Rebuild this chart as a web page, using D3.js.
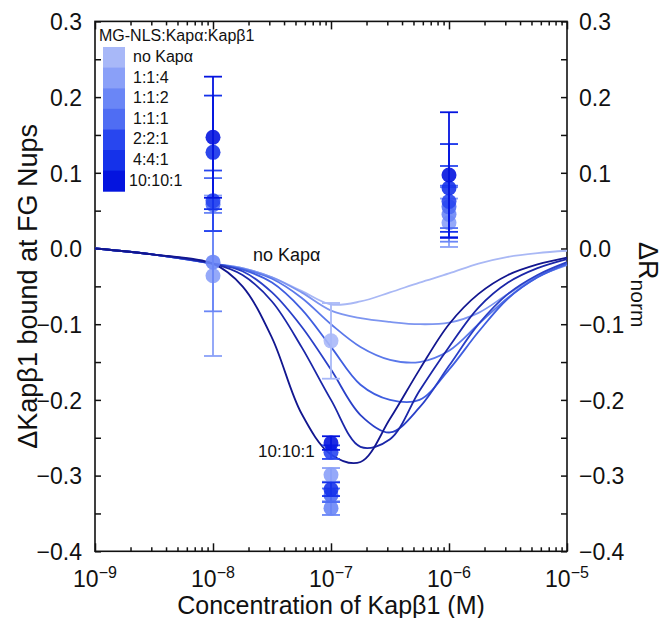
<!DOCTYPE html>
<html>
<head>
<meta charset="utf-8">
<script src="https://cdn.jsdelivr.net/npm/d3@7"></script>
<style>
  body { margin: 0; background: #fff; }
  text { font-family: "Liberation Sans", Arial, Helvetica, sans-serif; fill: #111; }
</style>
</head>
<body>
<svg id="chart" width="668" height="618"></svg>
<script>
// series names (ratio MG-NLS:Kapa:Kapb1)
const seriesNames = ["no Kapα", "1:1:4", "1:1:2", "1:1:1", "2:2:1", "4:4:1", "10:10:1"];
const markerColors = ["#a8b8f8", "#8aa0f8", "#6a86f6", "#4f6df3", "#2846ef", "#1532ea", "#0414df"];
const lineColors = ["#a9b8f5", "#7d95f0", "#5a78ea", "#3f5ee0", "#2a40c8", "#1a26a8", "#12168f"];

// fitted curves, read at these exponents of concentration
const fitExp = [-9, -8.5, -8, -7.75, -7.5, -7.25, -7, -6.75, -6.5, -6.25, -6, -5.75, -5.5, -5.25, -5];
const fitNoKapa = [0, -0.008, -0.02, -0.026, -0.038, -0.056, -0.074, -0.07, -0.058, -0.045, -0.033, -0.02, -0.011, -0.006, -0.003];
const fit114 = [0, -0.008, -0.02, -0.026, -0.038, -0.058, -0.082, -0.092, -0.097, -0.1, -0.098, -0.085, -0.06, -0.037, -0.022];
const fit112 = [0, -0.008, -0.02, -0.027, -0.04, -0.065, -0.1, -0.13, -0.147, -0.15, -0.135, -0.1, -0.065, -0.038, -0.021];
const fit111 = [0, -0.008, -0.02, -0.028, -0.045, -0.08, -0.13, -0.18, -0.2, -0.2, -0.16, -0.11, -0.066, -0.038, -0.02];
const fit221 = [0, -0.008, -0.02, -0.03, -0.058, -0.103, -0.16, -0.22, -0.243, -0.21, -0.155, -0.1, -0.06, -0.035, -0.018];
const fit441 = [0, -0.008, -0.02, -0.035, -0.07, -0.13, -0.2, -0.262, -0.252, -0.188, -0.13, -0.078, -0.045, -0.026, -0.014];
const fit10101 = [0, -0.008, -0.02, -0.05, -0.118, -0.218, -0.272, -0.282, -0.225, -0.16, -0.1, -0.06, -0.035, -0.021, -0.012];
const fits = [fitNoKapa, fit114, fit112, fit111, fit221, fit441, fit10101];

// measured points with error bars
const conc = [1e-8, 1e-7, 1e-6];
const ptNoKapa = [null, -0.122, null];
const errNoKapa = [null, 0.05, null];
const pt114 = [-0.036, -0.299, 0.034];
const err114 = [0.106, 0.009, 0.032];
const pt112 = [-0.018, -0.343, 0.045];
const err112 = [0.065, 0.009, 0.036];
const pt111 = [0.058, -0.326, 0.055];
const err111 = [0.035, 0.009, 0.028];
const pt221 = [0.063, -0.269, 0.062];
const err221 = [0.04, 0.009, 0.047];
const pt441 = [0.127, -0.318, 0.08];
const err441 = [0.075, 0.009, 0.058];
const pt10101 = [0.147, -0.257, 0.097];
const err10101 = [0.08, 0.009, 0.083];
const points = [ptNoKapa, pt114, pt112, pt111, pt221, pt441, pt10101];
const errors = [errNoKapa, err114, err112, err111, err221, err441, err10101];

const yTicks = [-0.4, -0.3, -0.2, -0.1, 0.0, 0.1, 0.2, 0.3];
const xTickExp = [-9, -8, -7, -6, -5];

const svg = d3.select("#chart");
const plotL = 95, plotR = 567, plotT = 21.4, plotB = 551.3;

const x = d3.scaleLog().domain([1e-9, 1e-5]).range([plotL, plotR]);
const y = d3.scaleLinear().domain([-0.4, 0.3]).range([plotB, plotT]);

// frame
svg.append("rect").attr("x", plotL).attr("y", plotT)
  .attr("width", plotR - plotL).attr("height", plotB - plotT)
  .attr("fill", "none").attr("stroke", "#111").attr("stroke-width", 1.6);

// minor log ticks
const minorX = [];
for (let e = -9; e < -5; e++) for (let m = 2; m <= 9; m++) minorX.push(m * Math.pow(10, e));

function styleAxis(g) {
  g.select(".domain").remove();
  g.selectAll("line").attr("stroke", "#111").attr("stroke-width", 1.5);
}

// bottom axis
svg.append("g").attr("transform", `translate(0,${plotB})`)
  .call(d3.axisBottom(x).tickValues(xTickExp.map(e => Math.pow(10, e))).tickSize(-8).tickFormat("")).call(styleAxis);
svg.append("g").attr("transform", `translate(0,${plotB})`)
  .call(d3.axisBottom(x).tickValues(minorX).tickSize(-4).tickFormat("")).call(styleAxis);
// top axis
svg.append("g").attr("transform", `translate(0,${plotT})`)
  .call(d3.axisTop(x).tickValues(xTickExp.map(e => Math.pow(10, e))).tickSize(-8).tickFormat("")).call(styleAxis);
svg.append("g").attr("transform", `translate(0,${plotT})`)
  .call(d3.axisTop(x).tickValues(minorX).tickSize(-4).tickFormat("")).call(styleAxis);

// y axes
const yMinor = d3.range(-0.35, 0.3, 0.1);
const fmt = d3.format(".1f");
const gL = svg.append("g").attr("transform", `translate(${plotL},0)`)
  .call(d3.axisLeft(y).tickValues(yTicks).tickSize(-6).tickPadding(13).tickFormat(fmt));
styleAxis(gL);
svg.append("g").attr("transform", `translate(${plotL},0)`)
  .call(d3.axisLeft(y).tickValues(yMinor).tickSize(-6).tickFormat("")).call(styleAxis);
const gR = svg.append("g").attr("transform", `translate(${plotR},0)`)
  .call(d3.axisRight(y).tickValues(yTicks).tickSize(-6).tickPadding(12).tickFormat(fmt));
styleAxis(gR);
svg.append("g").attr("transform", `translate(${plotR},0)`)
  .call(d3.axisRight(y).tickValues(yMinor).tickSize(-6).tickFormat("")).call(styleAxis);
[gL, gR].forEach(g => g.selectAll("text").attr("font-size", 23)
  .attr("font-family", "Liberation Sans, Arial, sans-serif").attr("fill", "#111").attr("dy", "0.36em"));

// x tick labels 10^n
xTickExp.forEach(e => {
  const t = svg.append("text").attr("x", x(Math.pow(10, e))).attr("y", plotB + 36)
    .attr("text-anchor", "middle").attr("font-size", 23);
  t.append("tspan").text("10");
  t.append("tspan").attr("dy", -9).attr("font-size", 16).text("−" + Math.abs(e));
});

// fit curves
const line = d3.line().x(d => x(Math.pow(10, d[0]))).y(d => y(d[1])).curve(d3.curveCatmullRom.alpha(0.5));
fits.forEach((vals, i) => {
  svg.append("path").datum(fitExp.map((e, j) => [e, vals[j]]))
    .attr("d", line).attr("fill", "none")
    .attr("stroke", lineColors[i]).attr("stroke-width", 1.8);
});

// error bars and points
points.forEach((vals, i) => {
  const g = svg.append("g");
  vals.forEach((v, j) => {
    if (v === null) return;
    const cx = x(conc[j]), e = errors[i][j];
    g.append("line").attr("x1", cx).attr("x2", cx).attr("y1", y(v - e)).attr("y2", y(v + e))
      .attr("stroke", markerColors[i]).attr("stroke-width", 1.8);
    [v - e, v + e].forEach(c => g.append("line").attr("x1", cx - 9).attr("x2", cx + 9)
      .attr("y1", y(c)).attr("y2", y(c)).attr("stroke", markerColors[i]).attr("stroke-width", 1.8));
    g.append("circle").attr("cx", cx).attr("cy", y(v)).attr("r", 7.5)
      .attr("fill", markerColors[i]).attr("fill-opacity", 0.9);
  });
});

// annotations
svg.append("text").attr("x", 253).attr("y", 261).attr("font-size", 18).text("no  Kapα");
svg.append("text").attr("x", 258).attr("y", 457).attr("font-size", 17).text("10:10:1");

// legend
svg.append("text").attr("x", 99).attr("y", 41).attr("font-size", 16).text("MG-NLS:Kapα:Kapβ1");
const legTop = 47, legH = 20.6;
seriesNames.forEach((name, i) => {
  svg.append("rect").attr("x", 103).attr("y", legTop + i * legH).attr("width", 22).attr("height", legH + 0.5)
    .attr("fill", markerColors[i]);
  svg.append("text").attr("x", i === 6 ? 129 : 133).attr("y", legTop + i * legH + 15)
    .attr("font-size", 16).text(i === 0 ? "no  Kapα" : name);
});

// axis titles
svg.append("text").attr("transform", `translate(37,${(plotT + plotB) / 2}) rotate(-90)`)
  .attr("text-anchor", "middle").attr("font-size", 27).text("ΔKapβ1 bound at FG Nups");
svg.append("text").attr("x", (plotL + plotR) / 2).attr("y", 614)
  .attr("text-anchor", "middle").attr("font-size", 25).text("Concentration of Kapβ1 (M)");
const rt = svg.append("text").attr("transform", `translate(639,242) rotate(90)`).attr("font-size", 27);
rt.append("tspan").text("ΔR");
rt.append("tspan").attr("dy", 8).attr("font-size", 21).text("norm");
</script>
</body>
</html>
